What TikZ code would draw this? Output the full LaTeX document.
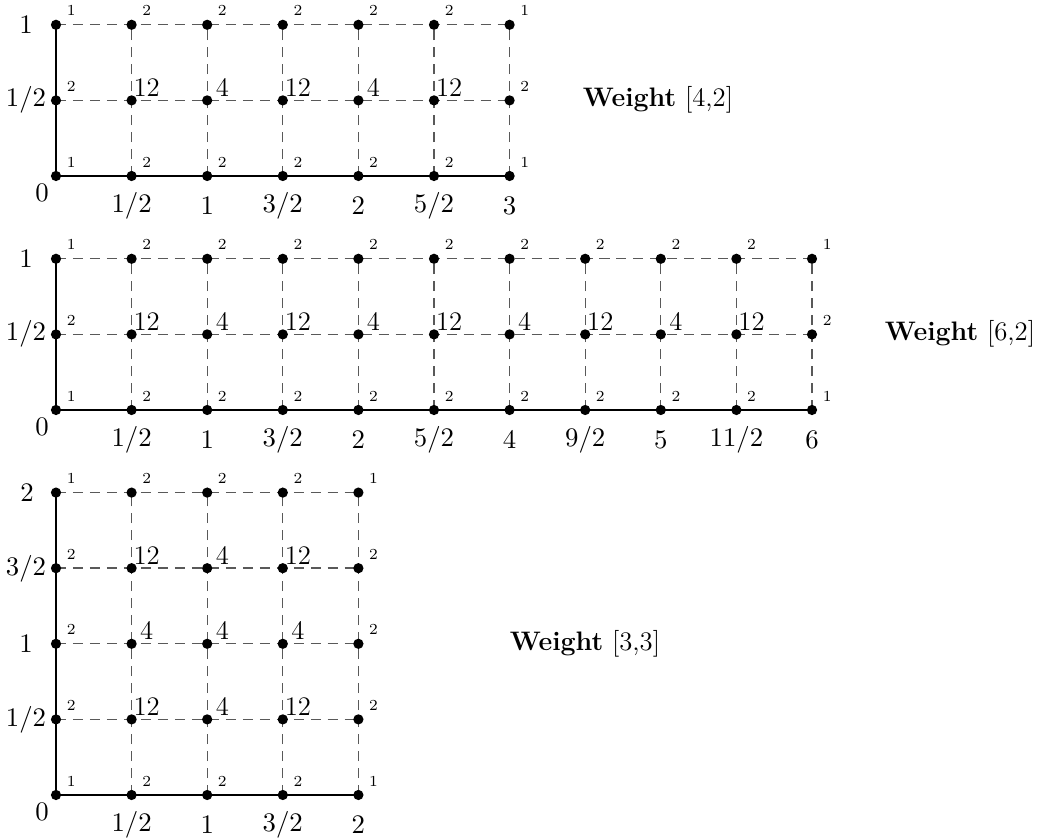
\RequirePackage{fix-cm}
\documentclass[tikz,border=0pt]{standalone}
\newcommand{\bigfs}{\fontsize{11.5}{14}\selectfont}
\newcommand{\smallfs}{\fontsize{6.6}{8}\selectfont}
\begin{document}
\begin{tikzpicture}[x=0.0151cm,y=-0.0151cm,
  every node/.style={font=\bigfs},
  dot/.style={circle,fill=black,inner sep=0pt,minimum size=4.4pt},
  gridline/.style={draw=black!65,dash pattern=on 4.3pt off 3pt,line width=0.6pt},
  axisline/.style={draw=black,line width=1.1pt},
  mult/.style={font=\smallfs,inner sep=0pt,xshift=6.5pt,yshift=6pt},
  big/.style={inner sep=0pt,xshift=6.5pt,yshift=5.6pt},
  xlab/.style={yshift=-12.9pt},
  wt/.style={inner sep=0pt}]
\useasboundingbox (0,0) rectangle (1038,839);

% ---------- grid A: weight [4,2] ----------
\foreach \i in {0,...,6}{\foreach \j in {0,1,2}{
  \coordinate (a-\i-\j) at ({56+75.6*\i},{176-75.6*\j});}}
\foreach \j in {1,2} \draw[gridline] (a-0-\j) -- (a-6-\j);
\foreach \i in {1,...,6} \draw[gridline] (a-\i-0) -- (a-\i-2);
\draw[axisline] (a-0-2) -- (a-0-0) -- (a-6-0);
\foreach \i in {0,...,6}{\foreach \j in {0,1,2}{\node[dot] (da-\i-\j) at (a-\i-\j) {};}}
\foreach \p in {0-0,6-0,0-2,6-2} \node[mult] at (a-\p) {1};
\foreach \i in {1,...,5}{\node[mult] at (a-\i-0) {2}; \node[mult] at (a-\i-2) {2};}
\node[mult] at (a-0-1) {2}; \node[mult] at (a-6-1) {2};
\foreach \i/\v in {1/12,2/4,3/12,4/4,5/12} \node[big] at (a-\i-1) {\v};
\node (ya0) at (42,193) {$0$};
\node (ya1) at (26,100) {$1/2$};
\node (ya2) at (26,25) {$1$};
\foreach \i/\v in {1/1\slash2,2/1,3/3\slash2,4/2,5/5\slash2,6/3}
  \node[xlab] at (a-\i-0) {$\v$};
\node[wt] (wa) at (658,100) {\textbf{Weight} [4,2]};

% ---------- grid B: weight [6,2] ----------
\foreach \i in {0,...,10}{\foreach \j in {0,1,2}{
  \coordinate (b-\i-\j) at ({56+75.6*\i},{410-75.6*\j});}}
\foreach \j in {1,2} \draw[gridline] (b-0-\j) -- (b-10-\j);
\foreach \i in {1,...,10} \draw[gridline] (b-\i-0) -- (b-\i-2);
\draw[axisline] (b-0-2) -- (b-0-0) -- (b-10-0);
\foreach \i in {0,...,10}{\foreach \j in {0,1,2}{\node[dot] (db-\i-\j) at (b-\i-\j) {};}}
\foreach \p in {0-0,10-0,0-2,10-2} \node[mult] at (b-\p) {1};
\foreach \i in {1,...,9}{\node[mult] at (b-\i-0) {2}; \node[mult] at (b-\i-2) {2};}
\node[mult] at (b-0-1) {2}; \node[mult] at (b-10-1) {2};
\foreach \i/\v in {1/12,2/4,3/12,4/4,5/12,6/4,7/12,8/4,9/12} \node[big] at (b-\i-1) {\v};
\node (yb0) at (42,427) {$0$};
\node (yb1) at (26,334) {$1/2$};
\node (yb2) at (26,259) {$1$};
\foreach \i/\v in {1/1\slash2,2/1,3/3\slash2,4/2,5/5\slash2,6/4,7/9\slash2,8/5,9/11\slash2,10/6}
  \node[xlab] at (b-\i-0) {$\v$};
\node[wt] (wb) at (960,334) {\textbf{Weight} [6,2]};

% ---------- grid C: weight [3,3] ----------
\foreach \i in {0,...,4}{\foreach \j in {0,...,4}{
  \coordinate (c-\i-\j) at ({56+75.6*\i},{795-75.6*\j});}}
\foreach \j in {1,...,4} \draw[gridline] (c-0-\j) -- (c-4-\j);
\foreach \i in {1,...,4} \draw[gridline] (c-\i-0) -- (c-\i-4);
\draw[axisline] (c-0-4) -- (c-0-0) -- (c-4-0);
\foreach \i in {0,...,4}{\foreach \j in {0,...,4}{\node[dot] (dc-\i-\j) at (c-\i-\j) {};}}
\foreach \p in {0-0,4-0,0-4,4-4} \node[mult] at (c-\p) {1};
\foreach \i in {1,2,3}{\node[mult] at (c-\i-0) {2}; \node[mult] at (c-\i-4) {2};
  \node[mult] at (c-0-\i) {2}; \node[mult] at (c-4-\i) {2};}
\foreach \i/\j/\v in {1/1/12,2/1/4,3/1/12,1/2/4,2/2/4,3/2/4,1/3/12,2/3/4,3/3/12}
  \node[big] at (c-\i-\j) {\v};
\node (yc0) at (42,812) {$0$};
\node (yc1) at (26,720) {$1/2$};
\node (yc2) at (26,644) {$1$};
\node (yc3) at (26,569) {$3/2$};
\node (yc4) at (27,493) {$2$};
\foreach \i/\v in {1/1\slash2,2/1,3/3\slash2,4/2}
  \node[xlab] at (c-\i-0) {$\v$};
\node[wt] (wc) at (585,644) {\textbf{Weight} [3,3]};
\end{tikzpicture}
\end{document}
